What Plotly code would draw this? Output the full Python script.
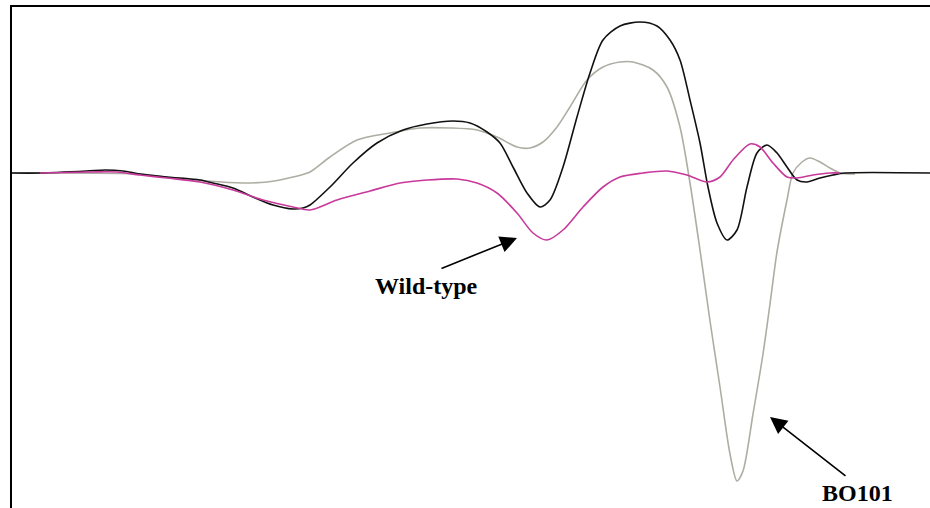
import plotly.graph_objects as go

# Spectral difference traces (arbitrary units), shared x scale
black_x = [0, 28, 75, 93, 111, 128, 155, 188, 201, 221, 241, 261, 281, 291, 298, 318, 341, 365, 391, 415,
           441, 458, 475, 488, 501, 515, 528, 538, 551, 565, 578, 591, 608, 628, 645, 658, 668, 678, 688, 696,
           705, 715, 725, 735, 745, 755, 765, 775, 785, 795, 808, 821, 833, 918]
black_y = [0, 0, 2, 3, 2, -1, -4, -7, -10, -15, -24, -32, -36, -35, -32, -14, 10, 30, 43, 49,
           52, 50, 41, 30, 6, -20, -34, -27, 6, 56, 100, 133, 147, 151, 147, 133, 113, 73, 30, -14,
           -50, -67, -57, -14, 20, 28, 20, 6, -7, -9, -5, -2, 0, 0]

bo101_x = [0, 128, 155, 195, 231, 255, 281, 298, 318, 345, 378, 408, 438, 465, 485, 505, 518, 531, 545, 558,
           575, 591, 608, 621, 641, 655, 668, 678, 688, 698, 708, 718, 725, 731, 741, 751, 758, 765, 775, 781,
           790, 798, 808, 818, 828, 843]
bo101_y = [0, -1, -4, -8, -10, -9, -4, 1, 16, 33, 40, 45, 45, 43, 36, 26, 25, 31, 46, 66,
           93, 106, 111, 111, 103, 86, 46, -10, -77, -148, -214, -281, -308, -298, -241, -181, -131, -79, -27, 0,
           11, 15, 11, 5, 0, -1]

wild_x = [28, 78, 105, 128, 155, 188, 221, 251, 281, 298, 325, 358, 388, 415, 445, 465, 485, 505, 521, 535,
          551, 571, 591, 608, 631, 655, 675, 695, 708, 721, 738, 748, 761, 775, 785, 801, 818, 828]
wild_y = [0, 1, 1, -2, -5, -9, -17, -27, -34, -37, -27, -18, -10, -7, -6, -10, -20, -40, -60, -67,
          -57, -34, -14, -4, 0, 2, -2, -9, -4, 13, 29, 26, 10, -4, -5, -2, 0, 0]

X_RANGE = [0, 918]
Y_RANGE = [-335, 166]

fig = go.Figure()
fig.add_trace(go.Scatter(x=bo101_x, y=bo101_y, mode="lines", name="BO101",
                         line=dict(color="#aeada3", width=1.6, shape="spline", smoothing=0.8)))
fig.add_trace(go.Scatter(x=black_x, y=black_y, mode="lines", name="control",
                         line=dict(color="#111111", width=1.6, shape="spline", smoothing=0.8)))
fig.add_trace(go.Scatter(x=wild_x, y=wild_y, mode="lines", name="Wild-type",
                         line=dict(color="#c8399b", width=1.6, shape="spline", smoothing=0.8)))

label_font = dict(family="Liberation Serif", size=24, color="#000000")

# Arrows pointing at the labelled curves
fig.add_annotation(x=505, y=-65, ax=428, ay=-96, xref="x", yref="y", axref="x", ayref="y",
                   text="", showarrow=True, arrowhead=2, arrowsize=2.1, arrowwidth=1.6,
                   arrowcolor="#000000")
fig.add_annotation(x=758, y=-244, ax=835, ay=-304, xref="x", yref="y", axref="x", ayref="y",
                   text="", showarrow=True, arrowhead=2, arrowsize=2.1, arrowwidth=1.6,
                   arrowcolor="#000000")
fig.add_annotation(x=414, y=-113, xref="x", yref="y", text="<b>Wild-type</b>", showarrow=False,
                   font=label_font, xanchor="center", yanchor="middle")
fig.add_annotation(x=845, y=-320, xref="x", yref="y", text="<b>BO101</b>", showarrow=False,
                   font=label_font, xanchor="center", yanchor="middle")

fig.update_xaxes(range=X_RANGE, side="top", showline=True, linecolor="#000000", linewidth=2,
                 showgrid=False, zeroline=False, showticklabels=False, ticks="")
fig.update_yaxes(range=Y_RANGE, showline=True, linecolor="#000000", linewidth=2,
                 showgrid=False, zeroline=False, showticklabels=False, ticks="")

fig.update_layout(width=930, height=508, margin=dict(l=12, r=0, t=7, b=0),
                  paper_bgcolor="#ffffff", plot_bgcolor="#ffffff", showlegend=False)

fig.write_html("out.html", config={"displayModeBar": False})
